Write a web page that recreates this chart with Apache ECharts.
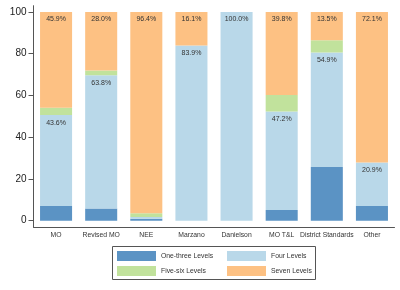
<!DOCTYPE html>
<html>
<head>
<meta charset="utf-8">
<script src="https://cdn.jsdelivr.net/npm/echarts@6/dist/echarts.min.js"></script>
<style>
  html, body { margin: 0; padding: 0; background: #fff; }
  #chart { width: 400px; height: 290px; }
</style>
</head>
<body>
<div id="chart"></div>
<script>
const categories = ['MO', 'Revised MO', 'NEE', 'Marzano', 'Danielson', 'MO T&L', 'District Standards', 'Other']
const seriesNames = ['One-three Levels', 'Four Levels', 'Five-six Levels', 'Seven Levels']
const oneThree = [7.0, 5.9, 1.0, 0, 0, 5.1, 25.7, 7.0]
const four = [43.6, 63.8, 0.8, 83.9, 100.0, 47.2, 54.9, 20.9]
const fiveSix = [3.5, 2.3, 1.8, 0, 0, 7.9, 5.9, 0]
const seven = [45.9, 28.0, 96.4, 16.1, 0, 39.8, 13.5, 72.1]
const yTicks = [0, 20, 40, 60, 80, 100]

const colors = ['#5b93c4', '#b9d8e9', '#c1e29c', '#fdc183']
const font = 'Liberation Sans, Arial, sans-serif'

// label only for the big segments (four / seven levels)
function pctLabel (show) {
  return {
    show: show,
    position: 'insideTop',
    distance: 4,
    fontSize: 7,
    fontFamily: font,
    color: '#333',
    formatter: p => (p.value >= 10 ? p.value.toFixed(1) + '%' : '')
  }
}

function makeSeries (name, data, idx, showLabel) {
  return {
    name: name,
    type: 'bar',
    stack: 'total',
    data: data,
    barCategoryGap: '29%',
    itemStyle: { color: colors[idx] },
    label: pctLabel(showLabel),
    emphasis: { disabled: true }
  }
}

// one legend per item so each sits in its own cell of the 2x2 box
const legendPos = [[117, 251], [227, 251], [117, 266], [227, 266]]
const legends = seriesNames.map((n, i) => ({
  data: [n],
  left: legendPos[i][0],
  top: legendPos[i][1],
  padding: 0,
  itemWidth: 39,
  itemHeight: 10,
  icon: 'rect',
  selectedMode: false,
  textStyle: { fontSize: 6.8, fontFamily: font, color: '#333' }
}))

const myChart = echarts.init(document.getElementById('chart'), null, { renderer: 'canvas' })
const option = {
  animation: false,
  color: colors,
  grid: { left: 33.5, right: 5.5, top: 5.7, bottom: 63, containLabel: false },
  xAxis: {
    type: 'category',
    data: categories,
    axisLine: { onZero: false, lineStyle: { color: '#555', width: 1 } },
    axisTick: { alignWithLabel: true, length: 3, lineStyle: { color: '#555' } },
    axisLabel: { interval: 0, fontSize: 6.8, fontFamily: font, color: '#333', margin: 5, hideOverlap: false }
  },
  yAxis: {
    type: 'value',
    min: -3,
    max: 103,
    axisLine: { show: true, lineStyle: { color: '#555', width: 1 } },
    axisTick: { show: true, length: 5, customValues: yTicks, lineStyle: { color: '#555' } },
    axisLabel: { customValues: yTicks, fontSize: 10, fontFamily: font, color: '#222', margin: 7 },
    splitLine: { show: false }
  },
  legend: legends,
  graphic: [{
    type: 'rect',
    shape: { x: 112.5, y: 246.5, width: 203, height: 33 },
    style: { fill: 'none', stroke: '#555', lineWidth: 1 }
  }],
  series: [
    makeSeries(seriesNames[0], oneThree, 0, false),
    makeSeries(seriesNames[1], four, 1, true),
    makeSeries(seriesNames[2], fiveSix, 2, false),
    makeSeries(seriesNames[3], seven, 3, true)
  ]
}
myChart.setOption(option)
</script>
</body>
</html>
